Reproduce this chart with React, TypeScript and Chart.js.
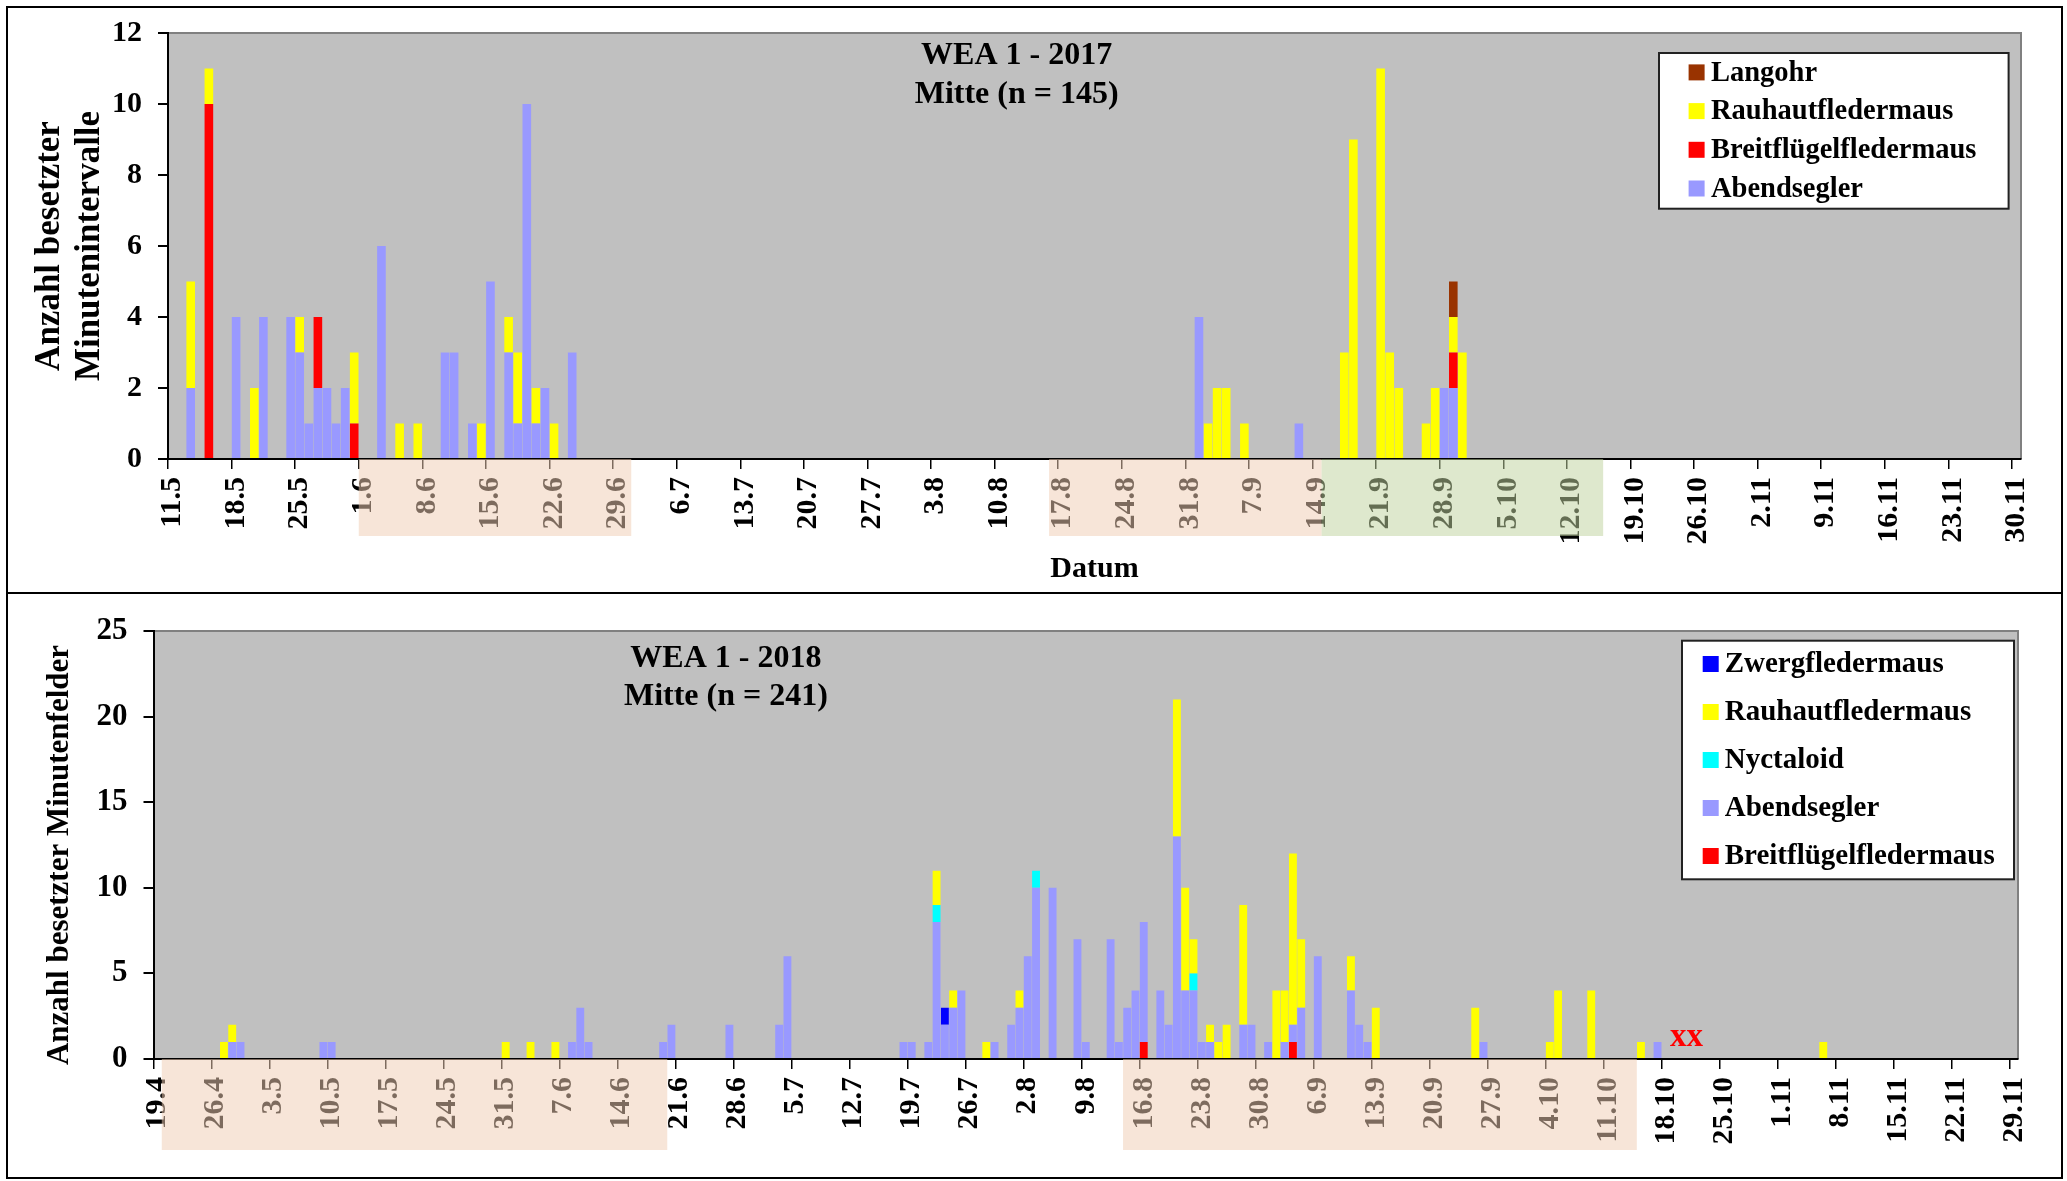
import React, { useEffect, useRef } from 'react';
import { Chart, registerables } from 'chart.js';

Chart.register(...registerables);

const FONT = "'Liberation Serif', 'Times New Roman', Times, serif";

// ---------------- colours ----------------
const C_ABEND = '#9999FF';
const C_RAUH = '#FFFF00';
const C_BREIT = '#FF0000';
const C_LANG = '#993300';
const C_ZWERG = '#0000FF';
const C_NYCT = '#00FFFF';
const PEACH = 'rgba(240,205,180,0.52)';
const GREEN = 'rgba(192,211,159,0.52)';

// ---------------- 2017 ----------------
const FIRST_DAY_2017 = '2017-05-11';
const DAY_COUNT_2017 = 204;
const TICK_LABELS_2017 = ['11.5', '18.5', '25.5', '1.6', '8.6', '15.6', '22.6', '29.6', '6.7', '13.7', '20.7', '27.7', '3.8', '10.8', '17.8', '24.8', '31.8', '7.9', '14.9', '21.9', '28.9', '5.10', '12.10', '19.10', '26.10', '2.11', '9.11', '16.11', '23.11', '30.11'];
const TITLE_2017 = ['WEA 1 - 2017', 'Mitte (n = 145)'];
const Y_TITLE_2017 = ['Anzahl besetzter', 'Minutenintervalle'];
const X_TITLE_2017 = 'Datum';

const ABENDSEGLER_2017: [string, number][] = [
  ['13.5', 2], ['18.5', 4], ['21.5', 4], ['24.5', 4], ['25.5', 3], ['26.5', 1], ['27.5', 2], ['28.5', 2],
  ['29.5', 1], ['30.5', 2], ['3.6', 6], ['10.6', 3], ['11.6', 3], ['13.6', 1], ['15.6', 5], ['17.6', 3],
  ['18.6', 1], ['19.6', 10], ['20.6', 1], ['21.6', 2], ['24.6', 3], ['1.9', 4], ['12.9', 1], ['28.9', 2], ['29.9', 2],
];
const BREITFLUEGEL_2017: [string, number][] = [['15.5', 10], ['27.5', 2], ['31.5', 1], ['29.9', 1]];
const RAUHAUT_2017: [string, number][] = [
  ['13.5', 3], ['15.5', 1], ['20.5', 2], ['25.5', 1], ['31.5', 2], ['5.6', 1], ['7.6', 1], ['14.6', 1],
  ['17.6', 1], ['18.6', 2], ['20.6', 1], ['22.6', 1], ['2.9', 1], ['3.9', 2], ['4.9', 2], ['6.9', 1],
  ['17.9', 3], ['18.9', 9], ['21.9', 11], ['22.9', 3], ['23.9', 2], ['26.9', 1], ['27.9', 2], ['29.9', 1], ['30.9', 3],
];
const LANGOHR_2017: [string, number][] = [['29.9', 1]];
const BANDS_2017: [string, string, string][] = [['1.6', '30.6', PEACH], ['16.8', '14.9', PEACH], ['15.9', '15.10', GREEN]];

// ---------------- 2018 ----------------
const FIRST_DAY_2018 = '2018-04-19';
const DAY_COUNT_2018 = 225;
const TICK_LABELS_2018 = ['19.4', '26.4', '3.5', '10.5', '17.5', '24.5', '31.5', '7.6', '14.6', '21.6', '28.6', '5.7', '12.7', '19.7', '26.7', '2.8', '9.8', '16.8', '23.8', '30.8', '6.9', '13.9', '20.9', '27.9', '4.10', '11.10', '18.10', '25.10', '1.11', '8.11', '15.11', '22.11', '29.11'];
const TITLE_2018 = ['WEA 1 - 2018', 'Mitte (n = 241)'];
const Y_TITLE_2018 = ['Anzahl besetzter Minutenfelder'];

const BREITFLUEGEL_2018: [string, number][] = [['16.8', 1], ['3.9', 1]];
const ABENDSEGLER_2018: [string, number][] = [
  ['28.4', 1], ['29.4', 1], ['9.5', 1], ['10.5', 1], ['8.6', 1], ['9.6', 3], ['10.6', 1], ['19.6', 1],
  ['20.6', 2], ['27.6', 2], ['3.7', 2], ['4.7', 6], ['18.7', 1], ['19.7', 1], ['21.7', 1], ['22.7', 8],
  ['23.7', 2], ['24.7', 3], ['25.7', 4], ['29.7', 1], ['31.7', 2], ['1.8', 3], ['2.8', 6], ['3.8', 10],
  ['5.8', 10], ['8.8', 7], ['9.8', 1], ['12.8', 7], ['13.8', 1], ['14.8', 3], ['15.8', 4], ['16.8', 7],
  ['18.8', 4], ['19.8', 2], ['20.8', 13], ['21.8', 4], ['22.8', 4], ['23.8', 1], ['24.8', 1], ['28.8', 2],
  ['29.8', 2], ['31.8', 1], ['2.9', 1], ['3.9', 1], ['4.9', 3], ['6.9', 6], ['10.9', 4], ['11.9', 2],
  ['12.9', 1], ['26.9', 1], ['17.10', 1],
];
const NYCTALOID_2018: [string, number][] = [['22.7', 1], ['3.8', 1], ['22.8', 1]];
const RAUHAUT_2018: [string, number][] = [
  ['27.4', 1], ['28.4', 1], ['31.5', 1], ['3.6', 1], ['6.6', 1], ['22.7', 2], ['24.7', 1], ['28.7', 1],
  ['1.8', 1], ['20.8', 8], ['21.8', 6], ['22.8', 2], ['24.8', 1], ['25.8', 1], ['26.8', 2], ['28.8', 7],
  ['1.9', 4], ['2.9', 3], ['3.9', 10], ['4.9', 4], ['10.9', 2], ['13.9', 3], ['25.9', 3], ['4.10', 1],
  ['5.10', 4], ['9.10', 4], ['15.10', 1], ['6.11', 1],
];
const ZWERG_2018: [string, number][] = [['23.7', 1]];
const BANDS_2018: [string, string, string][] = [['20.4', '19.6', PEACH], ['14.8', '14.10', PEACH]];
const NOTES_2018: { text: string; between: [string, string]; value: number }[] = [
  { text: 'xx', between: ['20.10', '21.10'], value: 1.25 },
];

// ---------------- helpers ----------------
function dayLabels(first: string, count: number): string[] {
  const [y, m, d] = first.split('-').map(Number);
  const t0 = Date.UTC(y, m - 1, d);
  const out: string[] = [];
  for (let i = 0; i < count; i++) {
    const dt = new Date(t0 + i * 86400000);
    out.push(`${dt.getUTCDate()}.${dt.getUTCMonth() + 1}`);
  }
  return out;
}

function dense(labels: string[], pts: [string, number][]) {
  const arr: (number | null)[] = labels.map(() => null);
  pts.forEach(([d, v]) => {
    const i = labels.indexOf(d);
    if (i >= 0) arr[i] = v;
  });
  return arr;
}

const LABELS_2017 = dayLabels(FIRST_DAY_2017, DAY_COUNT_2017);
const LABELS_2018 = dayLabels(FIRST_DAY_2018, DAY_COUNT_2018);

const SPEC_2017 = {
  labels: LABELS_2017,
  tickLabels: TICK_LABELS_2017,
  series: [
    { name: 'Abendsegler', color: C_ABEND, points: ABENDSEGLER_2017 },
    { name: 'Breitflügelfledermaus', color: C_BREIT, points: BREITFLUEGEL_2017 },
    { name: 'Rauhautfledermaus', color: C_RAUH, points: RAUHAUT_2017 },
    { name: 'Langohr', color: C_LANG, points: LANGOHR_2017 },
  ],
  yMax: 12, yStep: 2,
  title: TITLE_2017, yTitle: Y_TITLE_2017, xTitle: X_TITLE_2017,
  bands: BANDS_2017, notes: [] as typeof NOTES_2018,
  box: { left: 8, top: 8, w: 2053, h: 584 },
  pad: { top: 25, right: 40 }, yWidth: 160, xHeight: 133,
  yTickFont: 30, xTickFont: 30,
  yTitleFont: 35, yTitleX: [42, 82], yTitleDy: 0,
  titleX: 0.458, titleY: [23, 62], bandDepth: 77,
  legend: { right: 12.4, top: 20, w: 349.6, h: 155.7, first: 19.4, gap: 38.7, sq: 29.6, text: 52, font: 28.5 },
};

const SPEC_2018 = {
  labels: LABELS_2018,
  tickLabels: TICK_LABELS_2018,
  series: [
    { name: 'Breitflügelfledermaus', color: C_BREIT, points: BREITFLUEGEL_2018 },
    { name: 'Abendsegler', color: C_ABEND, points: ABENDSEGLER_2018 },
    { name: 'Nyctaloid', color: C_NYCT, points: NYCTALOID_2018 },
    { name: 'Rauhautfledermaus', color: C_RAUH, points: RAUHAUT_2018 },
    { name: 'Zwergfledermaus', color: C_ZWERG, points: ZWERG_2018 },
  ],
  yMax: 25, yStep: 5,
  title: TITLE_2018, yTitle: Y_TITLE_2018, xTitle: '',
  bands: BANDS_2018, notes: NOTES_2018,
  box: { left: 8, top: 594, w: 2053, h: 583 },
  pad: { top: 37, right: 43 }, yWidth: 145.5, xHeight: 118,
  yTickFont: 31, xTickFont: 30,
  yTitleFont: 31, yTitleX: [52], yTitleDy: 10,
  titleX: 0.307, titleY: [28, 66], bandDepth: 91,
  legend: { right: 4, top: 9.7, w: 332, h: 238.6, first: 23.3, gap: 48, sq: 20.7, text: 42.7, font: 29 },
};

type Spec = typeof SPEC_2017;

function decorPlugin(spec: Spec) {
  return {
    id: 'decor',
    beforeDraw(chart: any) {
      const { ctx, chartArea: a } = chart;
      ctx.save();
      ctx.fillStyle = '#C0C0C0';
      ctx.fillRect(a.left, a.top, a.right - a.left, a.bottom - a.top);
      ctx.strokeStyle = '#808080';
      ctx.lineWidth = 2;
      ctx.beginPath();
      ctx.moveTo(a.left, a.top);
      ctx.lineTo(a.right, a.top);
      ctx.lineTo(a.right, a.bottom);
      ctx.stroke();
      ctx.restore();
    },
    afterDatasetsDraw(chart: any) {
      const { ctx, chartArea: a } = chart;
      const xs = chart.scales.x;
      const ys = chart.scales.y;
      ctx.save();
      // chart title (inside plot)
      ctx.fillStyle = '#000';
      ctx.font = `bold 32px ${FONT}`;
      ctx.textAlign = 'center';
      ctx.textBaseline = 'middle';
      const tx = a.left + (a.right - a.left) * spec.titleX;
      spec.title.forEach((t, k) => ctx.fillText(t, tx, a.top + spec.titleY[k]));
      // y-axis title (rotated)
      ctx.font = `bold ${spec.yTitleFont}px ${FONT}`;
      const cy = (a.top + a.bottom) / 2 + spec.yTitleDy;
      spec.yTitle.forEach((t, k) => {
        ctx.save();
        ctx.translate(spec.yTitleX[k], cy);
        ctx.rotate(-Math.PI / 2);
        ctx.fillText(t, 0, 0);
        ctx.restore();
      });
      // legend
      const L = spec.legend;
      const bx = a.right - L.right - L.w;
      const by = a.top + L.top;
      ctx.fillStyle = '#FFFFFF';
      ctx.fillRect(bx, by, L.w, L.h);
      ctx.strokeStyle = '#222';
      ctx.lineWidth = 2;
      ctx.strokeRect(bx, by, L.w, L.h);
      const items = [...chart.data.datasets].reverse();
      ctx.font = `bold ${L.font}px ${FONT}`;
      ctx.textAlign = 'left';
      items.forEach((ds: any, k: number) => {
        const y = by + L.first + k * L.gap;
        ctx.fillStyle = ds.backgroundColor;
        ctx.fillRect(bx + L.sq, y - 8, 16, 16);
        ctx.fillStyle = '#000';
        ctx.fillText(ds.label, bx + L.text, y + 1);
      });
      // notes
      spec.notes.forEach((n) => {
        const i0 = spec.labels.indexOf(n.between[0]);
        const i1 = spec.labels.indexOf(n.between[1]);
        const x = (xs.getPixelForValue(i0) + xs.getPixelForValue(i1)) / 2;
        const y = ys.getPixelForValue(n.value);
        ctx.fillStyle = '#FF0000';
        ctx.font = `bold 33px ${FONT}`;
        ctx.textAlign = 'center';
        ctx.textBaseline = 'middle';
        ctx.fillText(n.text, x, y);
      });
      ctx.restore();
    },
    afterDraw(chart: any) {
      const { ctx, chartArea: a } = chart;
      const xs = chart.scales.x;
      const half = (xs.getPixelForValue(1) - xs.getPixelForValue(0)) / 2;
      ctx.save();
      spec.bands.forEach(([from, to, color]) => {
        const x0 = xs.getPixelForValue(spec.labels.indexOf(from)) - half;
        const x1 = xs.getPixelForValue(spec.labels.indexOf(to)) + half;
        ctx.fillStyle = color;
        ctx.fillRect(x0, a.bottom, x1 - x0, spec.bandDepth);
      });
      ctx.restore();
    },
  };
}

function buildConfig(spec: Spec): any {
  const tickSet = new Set(spec.tickLabels);
  const labels = spec.labels;
  return {
    type: 'bar',
    data: {
      labels,
      datasets: spec.series.map((s) => ({
        label: s.name,
        data: dense(labels, s.points),
        backgroundColor: s.color,
        borderWidth: 0,
        barPercentage: 0.95,
        categoryPercentage: 1,
      })),
    },
    options: {
      animation: false,
      responsive: false,
      maintainAspectRatio: false,
      layout: { padding: { top: spec.pad.top, right: spec.pad.right, left: 0, bottom: 0 } },
      plugins: { legend: { display: false }, tooltip: { enabled: false }, title: { display: false } },
      scales: {
        x: {
          stacked: true,
          offset: true,
          grid: {
            offset: true,
            drawOnChartArea: false,
            drawTicks: true,
            tickLength: 10,
            lineWidth: 1.5,
            color: (c: any) => (c.index !== undefined && tickSet.has(labels[c.index]) ? '#000' : 'rgba(0,0,0,0)'),
          },
          border: { display: true, color: '#000', width: 2 },
          ticks: {
            autoSkip: false,
            maxRotation: 90,
            minRotation: 90,
            padding: 8,
            color: '#000',
            font: { family: FONT, size: spec.xTickFont, weight: 'bold' },
            callback: (_v: any, i: number) => (tickSet.has(labels[i]) ? labels[i] : ''),
          },
          title: {
            display: !!spec.xTitle,
            text: spec.xTitle,
            color: '#000',
            font: { family: FONT, size: 30, weight: 'bold', lineHeight: 1.2 },
            padding: { top: 0, bottom: 5 },
          },
          afterFit: (s: any) => {
            s.height = spec.xHeight;
            s.paddingLeft = 0;
            s.paddingRight = 0;
          },
        },
        y: {
          stacked: true,
          min: 0,
          max: spec.yMax,
          grid: { drawOnChartArea: false, drawTicks: true, tickLength: 10, lineWidth: 2, color: '#000' },
          border: { display: true, color: '#000', width: 2 },
          ticks: {
            stepSize: spec.yStep,
            padding: 16,
            color: '#000',
            font: { family: FONT, size: spec.yTickFont, weight: 'bold' },
          },
          title: { display: false },
          afterFit: (s: any) => {
            s.width = spec.yWidth;
            s.paddingTop = 0;
            s.paddingBottom = 0;
          },
        },
      },
    },
    plugins: [decorPlugin(spec)],
  };
}

function BatChart({ spec }: { spec: Spec }) {
  const ref = useRef<HTMLCanvasElement>(null);
  useEffect(() => {
    const chart = new Chart(ref.current as HTMLCanvasElement, buildConfig(spec));
    return () => chart.destroy();
  }, [spec]);
  return (
    <canvas
      ref={ref}
      width={spec.box.w}
      height={spec.box.h}
      style={{ position: 'absolute', left: spec.box.left, top: spec.box.top, width: spec.box.w, height: spec.box.h }}
    />
  );
}

export default function App() {
  return (
    <div>
      <div
        style={{
          position: 'absolute', left: 6, top: 6, width: 2057, height: 1173,
          border: '2px solid #000', boxSizing: 'border-box',
        }}
      />
      <div style={{ position: 'absolute', left: 6, top: 592, width: 2057, height: 2, background: '#000' }} />
      <BatChart spec={SPEC_2017} />
      <BatChart spec={SPEC_2018 as unknown as Spec} />
    </div>
  );
}
